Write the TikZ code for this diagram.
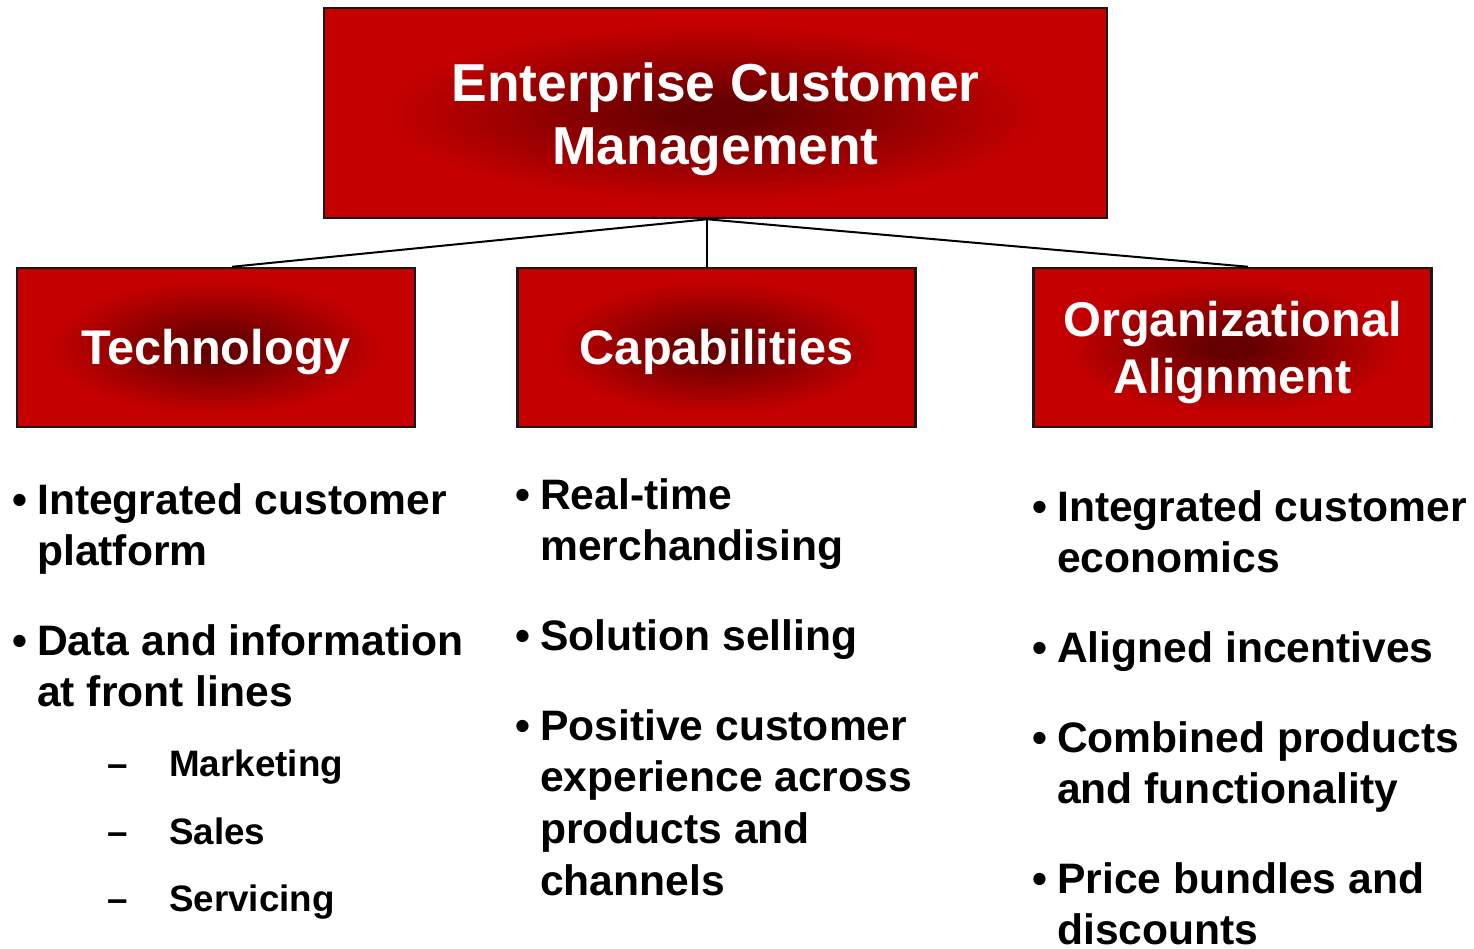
\documentclass[tikz,border=0pt]{standalone}
\usepackage{fontspec}
\setmainfont{Liberation Sans}
\usetikzlibrary{calc}

% colours of the glowing header boxes
\definecolor{glowdark}{HTML}{660000}
\definecolor{glowmid}{HTML}{960000}
\definecolor{glowred}{HTML}{C40000}
% the central 50bp square of a shading fills the shaded path
\pgfdeclareradialshading{boxglow}{\pgfpoint{0bp}{0bp}}{%
  color(0bp)=(glowdark); color(3bp)=(glowdark); color(12bp)=(glowmid);
  color(21bp)=(glowred); color(60bp)=(glowred)}

% one bullet point, first line baseline on the node's base
\newcommand\bulitem[1]{\makebox[25pt][l]{•}\parbox[t]{15cm}{#1}}
% one dash sub-point
\newcommand\dashitem[1]{\makebox[62pt][l]{–}#1}

\tikzset{
  hbox/.style={draw=black!90, line width=2.5pt, shade, shading=boxglow,
    inner sep=0pt},
  boxlabel/.style={text=white, anchor=base, inner sep=0pt,
    font=\bfseries\fontsize{48.7}{57}\selectfont},
  titlelabel/.style={boxlabel, font=\bfseries\fontsize{53.4}{63}\selectfont},
  item/.style={anchor=base west, inner sep=0pt,
    font=\bfseries\fontsize{42.6}{51.7}\selectfont},
  subitem/.style={anchor=base west, inner sep=0pt,
    font=\bfseries\fontsize{36.8}{44}\selectfont},
  link/.style={line width=2pt, draw=black},
}

\begin{document}
\begin{tikzpicture}[x=1pt, y=-1pt]
\useasboundingbox (0,0) rectangle (1474,948);

% ---- boxes ----
\node[hbox, minimum width=783pt, minimum height=210pt] (ecm) at (715.5,113) {};
\node[hbox, minimum width=398pt, minimum height=159pt] (tech) at (216,347.5) {};
\node[hbox, minimum width=398pt, minimum height=159pt] (cap) at (716.5,347.5) {};
\node[hbox, minimum width=398pt, minimum height=159pt] (org) at (1232.5,347.5) {};

% ---- box labels ----
\node[titlelabel] (ecmtext) at (715.5,101)
  {\parbox[t]{760pt}{\centering Enterprise Customer\\Management}};
\node[boxlabel] (techtext) at (216,364) {Technology};
\node[boxlabel] (captext) at (716.5,364) {Capabilities};
\node[boxlabel] (orgtext) at (1232.5,336)
  {\parbox[t]{390pt}{\centering Organizational\\Alignment}};

% ---- connectors ----
\coordinate (hub) at ([xshift=-8.5pt]ecm.south);
\draw[link] (hub) -- ([xshift=16pt]tech.north);
\draw[link, line width=1.5pt] (hub) -- (hub |- cap.north);
\draw[link] (hub) -- ([xshift=15.5pt]org.north);

% ---- Technology points ----
\node[item] (t1) at (12,514) {\bulitem{Integrated customer\\platform}};
\node[item] (t2) at (12,655) {\bulitem{Data and information\\at front lines}};
\node[subitem] (t3) at (107,776) {\dashitem{Marketing}};
\node[subitem] (t4) at (107,844) {\dashitem{Sales}};
\node[subitem] (t5) at (107,911) {\dashitem{Servicing}};

% ---- Capabilities points ----
\node[item] (c1) at (515,509) {\bulitem{Real-time\\merchandising}};
\node[item] (c2) at (515,650) {\bulitem{Solution selling}};
\node[item] (c3) at (515,740)
  {\bulitem{Positive customer\\experience across\\products and\\channels}};

% ---- Organizational Alignment points ----
\node[item] (o1) at (1032,521) {\bulitem{Integrated customer\\economics}};
\node[item] (o2) at (1032,662) {\bulitem{Aligned incentives}};
\node[item] (o3) at (1032,752) {\bulitem{Combined products\\and functionality}};
\node[item] (o4) at (1032,893) {\bulitem{Price bundles and\\discounts}};
\end{tikzpicture}
\end{document}
